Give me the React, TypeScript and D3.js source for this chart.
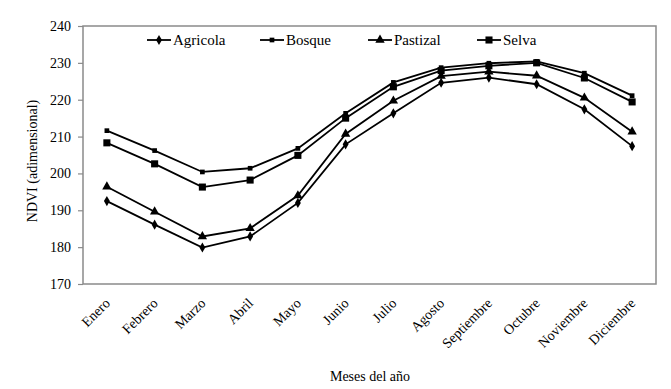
import React, { useEffect, useRef } from 'react'
import * as d3 from 'd3'

const months = [
  'Enero', 'Febrero', 'Marzo', 'Abril', 'Mayo', 'Junio',
  'Julio', 'Agosto', 'Septiembre', 'Octubre', 'Noviembre', 'Diciembre',
]
const agricola = [192.5, 186.1, 179.9, 182.9, 192.0, 207.9, 216.3, 224.6, 226.0, 224.2, 217.4, 207.4]
const bosque = [211.6, 206.2, 200.4, 201.4, 206.8, 216.3, 224.7, 228.7, 229.9, 230.4, 227.2, 221.1]
const pastizal = [196.4, 189.6, 182.9, 185.1, 194.0, 210.7, 219.7, 226.4, 227.6, 226.5, 220.5, 211.3]
const selva = [208.3, 202.6, 196.3, 198.2, 204.9, 215.0, 223.5, 227.9, 229.2, 230.0, 225.9, 219.4]
const yTicks = [170, 180, 190, 200, 210, 220, 230, 240]

type TSeries = { name: string; values: number[]; marker: string; legendX: number }

const series: TSeries[] = [
  { name: 'Agricola', values: agricola, marker: 'diamond', legendX: 147 },
  { name: 'Bosque', values: bosque, marker: 'smallSquare', legendX: 260 },
  { name: 'Pastizal', values: pastizal, marker: 'triangle', legendX: 368 },
  { name: 'Selva', values: selva, marker: 'square', legendX: 477 },
]

const W = 671
const H = 389
const margin = { left: 83, right: 15, top: 26, bottom: 105 }
const FONT = "'Liberation Serif', 'DejaVu Serif', serif"

const markerPath = (kind: string): string => {
  if (kind === 'diamond') return d3.symbol(d3.symbolDiamond, 30)() || ''
  if (kind === 'triangle') return d3.symbol(d3.symbolTriangle, 38)() || ''
  if (kind === 'smallSquare') return d3.symbol(d3.symbolSquare, 22)() || ''
  return d3.symbol(d3.symbolSquare, 50)() || ''
}

const App = (): JSX.Element => {
  const ref = useRef<SVGSVGElement>(null)

  useEffect(() => {
    const svg = d3.select(ref.current)
    svg.selectAll('*').remove()
    const right = W - margin.right
    const bottom = H - margin.bottom

    const x = d3.scaleBand().domain(months).range([margin.left, right])
    const cx = (m: string) => (x(m) || 0) + x.bandwidth() / 2
    const y = d3.scaleLinear().domain([170, 240]).range([bottom, margin.top])

    // plot frame
    svg
      .append('rect')
      .attr('x', margin.left)
      .attr('y', margin.top)
      .attr('width', right - margin.left)
      .attr('height', bottom - margin.top)
      .attr('fill', 'none')
      .attr('stroke', '#8a8a8a')
      .attr('stroke-width', 1.5)

    // y axis
    const yAxis = d3.axisLeft(y).tickValues(yTicks).tickSize(5).tickPadding(7)
    svg
      .append('g')
      .attr('transform', 'translate(' + margin.left + ',0)')
      .call(g => {
        g.call(yAxis)
        g.attr('font-family', null).attr('font-size', null)
        g.select('.domain').remove()
        g.selectAll('.tick line').attr('stroke', '#8a8a8a').attr('stroke-width', 1.2)
        g.selectAll('.tick text').attr('fill', '#000').style('font-size', '14px')
      })

    // x labels
    svg
      .append('g')
      .selectAll('text')
      .data(months)
      .join('text')
      .attr('transform', d => 'translate(' + (cx(d) + 4) + ',' + (bottom + 20) + ') rotate(-45)')
      .attr('text-anchor', 'end')
      .style('font-size', '14px')
      .text(d => d)

    // lines and markers
    const line = d3
      .line<number>()
      .x((_, i) => cx(months[i]))
      .y(d => y(d))

    series.forEach(s => {
      svg
        .append('path')
        .datum(s.values)
        .attr('fill', 'none')
        .attr('stroke', '#000')
        .attr('stroke-width', 1.8)
        .attr('d', line)
      svg
        .append('g')
        .selectAll('path')
        .data(s.values)
        .join('path')
        .attr('d', markerPath(s.marker))
        .attr('transform', (d, i) => 'translate(' + cx(months[i]) + ',' + y(d) + ')')
        .attr('fill', '#000')
    })

    // legend
    const legendY = 40
    series.forEach(s => {
      const lg = svg.append('g').attr('transform', 'translate(' + s.legendX + ',' + legendY + ')')
      lg.append('line').attr('x1', 0).attr('x2', 24).attr('stroke', '#000').attr('stroke-width', 1.8)
      lg.append('path').attr('d', markerPath(s.marker)).attr('transform', 'translate(12,0)')
      lg.append('text')
        .attr('x', 26)
        .attr('dy', '0.33em')
        .style('font-size', '15px')
        .text(s.name)
    })

    // axis titles
    svg
      .append('text')
      .attr('transform', 'translate(37,' + ((margin.top + bottom) / 2 + 6) + ') rotate(-90)')
      .attr('text-anchor', 'middle')
      .style('font-size', '14px')
      .text('NDVI (adimensional)')
    svg
      .append('text')
      .attr('x', 370)
      .attr('y', 381)
      .attr('text-anchor', 'middle')
      .style('font-size', '14px')
      .text('Meses del año')
  }, [])

  return (
    <svg
      ref={ref}
      width={W}
      height={H}
      style={{ position: 'absolute', left: 0, top: 0, background: '#fff', fontFamily: FONT }}
    />
  )
}

export default App
